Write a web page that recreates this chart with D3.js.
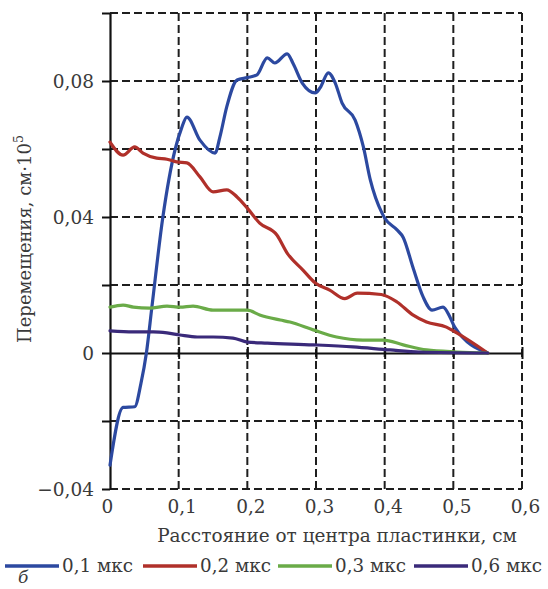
<!DOCTYPE html>
<html><head><meta charset="utf-8">
<script src="https://cdn.jsdelivr.net/npm/d3@7"></script>
<style>
body{margin:0;background:#fff;}
svg{display:block;}
text{font-family:"DejaVu Serif","Liberation Serif",serif;fill:#3a3a3a;}
</style></head>
<body>
<svg id="chart" width="548" height="589"></svg>
<script>
// ---- data ----
const xTicks = [0, 0.1, 0.2, 0.3, 0.4, 0.5, 0.6];
const yTicks = [-0.04, -0.02, 0, 0.02, 0.04, 0.06, 0.08, 0.1];
const yLabelTicks = [-0.04, 0, 0.04, 0.08];
const seriesNames = ["0,1 мкс", "0,2 мкс", "0,3 мкс", "0,6 мкс"];
const seriesColors = ["#2c49a0", "#b0302a", "#6aab48", "#3a2a7a"];

const x01 = [0, 0.019, 0.036, 0.045, 0.053, 0.061, 0.077, 0.095, 0.104, 0.112, 0.131, 0.153, 0.160, 0.170, 0.185, 0.2, 0.214, 0.229, 0.24, 0.258, 0.267, 0.28, 0.299, 0.306, 0.318, 0.328, 0.338, 0.357, 0.369, 0.379, 0.396, 0.40, 0.418, 0.427, 0.441, 0.456, 0.469, 0.485, 0.495, 0.502, 0.55];
const y01 = [-0.033, -0.016, -0.0158, -0.009, 0, 0.0135, 0.04, 0.06, 0.066, 0.0694, 0.0626, 0.0588, 0.0635, 0.0724, 0.0803, 0.081, 0.0818, 0.0868, 0.0853, 0.088, 0.085, 0.0794, 0.0765, 0.078, 0.0824, 0.0794, 0.0735, 0.0685, 0.0606, 0.051, 0.0412, 0.0397, 0.0362, 0.034, 0.0253, 0.0165, 0.0126, 0.0135, 0.0106, 0.0076, 0];

const x02 = [0, 0.019, 0.036, 0.048, 0.068, 0.083, 0.097, 0.112, 0.131, 0.15, 0.17, 0.185, 0.2, 0.218, 0.243, 0.258, 0.281, 0.299, 0.32, 0.342, 0.36, 0.395, 0.418, 0.441, 0.461, 0.49, 0.505, 0.55];
const y02 = [0.062, 0.0582, 0.0606, 0.0588, 0.0573, 0.057, 0.0562, 0.0559, 0.0518, 0.0474, 0.048, 0.0459, 0.0426, 0.0382, 0.0347, 0.0294, 0.0244, 0.0206, 0.0185, 0.016, 0.0176, 0.0172, 0.015, 0.0112, 0.0091, 0.0076, 0.0059, 0];

const x03 = [0, 0.019, 0.034, 0.058, 0.083, 0.102, 0.121, 0.15, 0.179, 0.2, 0.218, 0.248, 0.262, 0.296, 0.33, 0.368, 0.398, 0.427, 0.461, 0.505, 0.55];
const y03 = [0.0135, 0.0141, 0.0135, 0.0132, 0.0138, 0.0135, 0.0138, 0.0126, 0.0126, 0.0126, 0.0112, 0.0097, 0.0091, 0.0068, 0.0047, 0.0038, 0.0038, 0.0024, 0.0009, 0.0003, 0];

const x06 = [0, 0.034, 0.063, 0.083, 0.102, 0.127, 0.15, 0.179, 0.2, 0.229, 0.296, 0.354, 0.408, 0.451, 0.55];
const y06 = [0.0065, 0.0062, 0.0062, 0.0059, 0.0053, 0.0047, 0.0047, 0.0044, 0.0032, 0.0029, 0.0024, 0.0018, 0.0009, 0.0003, 0];

const seriesX = [x01, x02, x03, x06];
const seriesY = [y01, y02, y03, y06];

// ---- layout ----
const svg = d3.select("#chart");
const x = d3.scaleLinear().domain([0, 0.6]).range([110, 522]);
const y = d3.scaleLinear().domain([-0.04, 0.1]).range([489, 13]);
const fmt = v => (v < 0 ? "\u2212" : "") + d3.format(v === 0 ? "d" : ".2f")(Math.abs(v)).replace(".", ",");
const fmtX = v => (v === 0 ? "0" : d3.format(".1f")(v).replace(".", ","));
const FONT = "DejaVu Serif";
function fit(sel, target) {
  const node = sel.node();
  const fs = parseFloat(sel.style("font-size"));
  const w = node.getComputedTextLength();
  if (w > 0) sel.style("font-size", (fs * target / w).toFixed(2) + "px");
  return sel;
}

const gridColor = "#1e1e1e";
const dash = "8,4";

svg.append("g").selectAll("line").data(yTicks.filter(v => v !== 0)).join("line")
  .attr("x1", x(0)).attr("x2", x(0.6))
  .attr("y1", d => y(d)).attr("y2", d => y(d))
  .attr("stroke", gridColor).attr("stroke-width", 2).attr("stroke-dasharray", dash);
svg.append("g").selectAll("line").data(xTicks.filter(v => v !== 0)).join("line")
  .attr("x1", d => x(d)).attr("x2", d => x(d))
  .attr("y1", y(0.1)).attr("y2", y(-0.04))
  .attr("stroke", gridColor).attr("stroke-width", 2).attr("stroke-dasharray", dash);

// left axis
const yAxis = svg.append("g").attr("transform", `translate(${x(0)},0)`)
  .call(d3.axisLeft(y).tickValues(yTicks).tickSizeInner(8).tickSizeOuter(0).tickPadding(8)
    .tickFormat(d => yLabelTicks.some(v => Math.abs(v - d) < 1e-9) ? fmt(d) : ""));
yAxis.attr("font-family", FONT);
yAxis.select(".domain").attr("stroke", "#111").attr("stroke-width", 2.2);
yAxis.selectAll(".tick line").attr("stroke", "#111").attr("stroke-width", 2);
yAxis.selectAll("text").style("font-size", "18.5px").attr("fill", "#3a3a3a").attr("dy", "0.36em");

// zero line with ticks
const zeroAxis = svg.append("g").attr("transform", `translate(0,${y(0)})`)
  .call(d3.axisBottom(x).tickValues(xTicks.filter(v => v > 0)).tickSizeInner(7).tickSizeOuter(0).tickFormat(""));
zeroAxis.select(".domain").attr("stroke", "#111").attr("stroke-width", 1.8);
zeroAxis.selectAll(".tick line").attr("stroke", "#111").attr("stroke-width", 2).attr("y1", -6).attr("y2", 6);

// bottom labels
const xAxis = svg.append("g").attr("transform", `translate(0,${y(-0.04)})`)
  .call(d3.axisBottom(x).tickValues(xTicks).tickSize(0).tickPadding(11).tickFormat(fmtX));
xAxis.attr("font-family", FONT);
xAxis.select(".domain").remove();
xAxis.selectAll("text").style("font-size", "18.5px").attr("fill", "#3a3a3a").attr("dx", d => d === 0 ? -3 : 3);

// curves
const line = d3.line().x(d => x(d[0])).y(d => y(d[1])).curve(d3.curveMonotoneX);
seriesX.forEach((xs, i) => {
  const pts = xs.map((v, j) => [v, seriesY[i][j]]);
  svg.append("path").datum(pts).attr("d", line)
    .attr("fill", "none").attr("stroke", seriesColors[i]).attr("stroke-width", 3.2)
    .attr("stroke-linejoin", "round").attr("stroke-linecap", "round");
});

// axis titles
const xt = svg.append("text").attr("x", 337).attr("y", 542).attr("text-anchor", "middle")
  .style("font-size", "17px").text("Расстояние от центра пластинки, см");
fit(xt, 360);
const yt = svg.append("text").attr("transform", "translate(31,239) rotate(-90)").attr("text-anchor", "middle")
  .style("font-size", "17px");
yt.append("tspan").text("Перемещения, см·10");
yt.append("tspan").attr("dy", -8).style("font-size", "0.7em").text("5");
fit(yt, 208);

// legend
const legX = [5, 143, 278, 414];
const lg = svg.append("g");
seriesNames.forEach((n, i) => {
  lg.append("line").attr("x1", legX[i]).attr("x2", legX[i] + 54).attr("y1", 566).attr("y2", 566)
    .attr("stroke", seriesColors[i]).attr("stroke-width", 3.4);
  const t = lg.append("text").attr("x", legX[i] + 57).attr("y", 572).style("font-size", "17px").text(n);
  fit(t, 71);
});
svg.append("text").attr("x", 18).attr("y", 583).style("font-size", "17px").style("font-style", "italic").text("б");
</script>
</body></html>
